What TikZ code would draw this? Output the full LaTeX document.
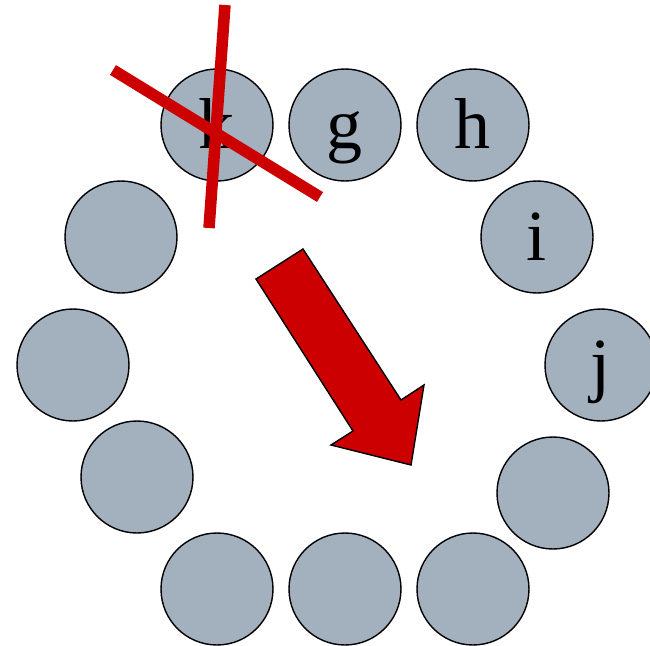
\documentclass[tikz,border=0pt]{standalone}
\usepackage{fontspec}
\setmainfont{Liberation Serif}

\begin{document}
\begin{tikzpicture}[x=0.02cm, y=-0.02cm,
    slot/.style={circle, draw=black, line width=0.8pt, fill={rgb,255:red,163;green,177;blue,191},
                 minimum size=2.24cm, inner sep=0pt, text height=0.96cm, text depth=0cm,
                 font=\fontsize{41}{44}\selectfont},
    strike/.style={line width=0.23cm, draw={rgb,255:red,204;green,0;blue,0}}]
            \useasboundingbox (0,0) rectangle (650,646);
            % ==== SLOTS ====
            \node[slot] (k) at (217,125) {k};
            \node[slot] (g) at (345,125) {g};
            \node[slot] (h) at (473,125) {h};
            \node[slot] (i) at (537,237) {i};
            \node[slot] (j) at (601,365) {j};
            \node[slot] (s6) at (553,493) {};
            \node[slot] (s7) at (473,589) {};
            \node[slot] (s8) at (345,589) {};
            \node[slot] (s9) at (217,589) {};
            \node[slot] (s10) at (137,477) {};
            \node[slot] (s11) at (73,365) {};
            \node[slot] (s12) at (121,237) {};
            % ==== CROSS ====
            \draw[strike] (113,70) -- (320,197);
            \draw[strike] (225,5) -- (209,228);
            % ==== BIG ARROW ====
            \draw[line width=0.8pt, fill={rgb,255:red,204;green,0;blue,0}, line join=miter]
                (256,279) -- (303,249) -- (401,400) -- (424,385) -- (411,465)
                -- (331,445) -- (353,431) -- cycle;
         \end{tikzpicture}
\end{document}
